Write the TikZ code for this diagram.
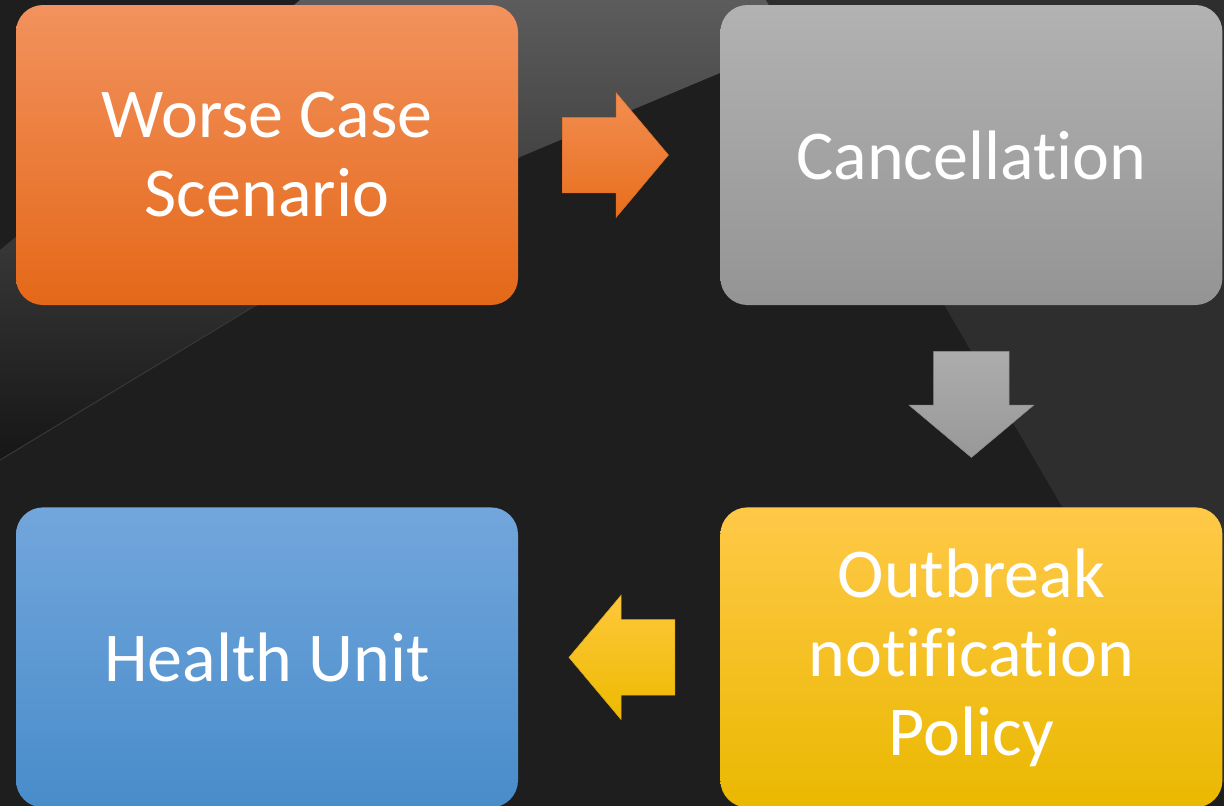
\documentclass[tikz,border=0pt]{standalone}
\usepackage{fontspec}
\setmainfont{Carlito}[Ligatures=NoCommon]
\usepackage{tikz}
\usetikzlibrary{positioning,shapes.arrows}
\usepackage{xcolor}
\definecolor{bgdark}{HTML}{1E1E1E}
\definecolor{bgmid}{HTML}{2E2E2E}
\tikzstyle{flowbox} = [rectangle, rounded corners=27pt, minimum width=502pt, minimum height=300pt, inner sep=0pt, text=white, align=center, font=\fontsize{70}{79}\selectfont]
\tikzstyle{orangebox} = [flowbox, top color={rgb,255:red,242;green,146;blue,94}, middle color={rgb,255:red,245;green,124;blue,42}, bottom color={rgb,255:red,228;green,104;blue,24}]
\tikzstyle{graybox} = [flowbox, top color={rgb,255:red,178;green,178;blue,178}, middle color={rgb,255:red,164;green,164;blue,164}, bottom color={rgb,255:red,148;green,148;blue,148}]
\tikzstyle{bluebox} = [flowbox, top color={rgb,255:red,114;green,166;blue,220}, middle color={rgb,255:red,94;green,156;blue,214}, bottom color={rgb,255:red,72;green,140;blue,202}]
\tikzstyle{yellowbox} = [flowbox, top color={rgb,255:red,255;green,201;blue,72}, middle color={rgb,255:red,255;green,198;blue,0}, bottom color={rgb,255:red,234;green,184;blue,0}]
\tikzstyle{flowarrow} = [single arrow, anchor=tail, minimum height=106pt, inner xsep=0pt, inner ysep=37.5pt, single arrow head extend=24.5pt, single arrow tip angle=100]
\tikzstyle{downarrow} = [flowarrow, shape border rotate=270, inner xsep=37.5pt, inner ysep=0pt]

\begin{document}
\begin{tikzpicture}[x=1pt, y=-1pt]
\useasboundingbox (0,0) rectangle (1224,806);
% background
\fill[bgdark] (0,0) rectangle (1224,806);
\shade[top color={rgb,255:red,92;green,92;blue,92}, bottom color={rgb,255:red,22;green,22;blue,22}]
  (300,0) -- (895,0) -- (720,73) -- (520,157) -- (253,307) -- (0,460) -- (0,250) -- cycle;
\fill[bgmid] (766,0) -- (1224,0) -- (1224,806) -- (1237,806) -- cycle;
\draw[color={rgb,255:red,56;green,56;blue,56}, line width=1pt] (0,460) -- (253,307) -- (520,157);

% boxes
\node[orangebox] (worse) at (267,155) {Worse Case\\Scenario};
\node[graybox, right=202pt of worse] (cancel) {Cancellation};
\node[yellowbox, below=202pt of cancel] (outbreak) {Outbreak\\notification\\Policy};
\node[bluebox, left=202pt of outbreak] (health) {Health Unit};

% arrows
\node[flowarrow, draw={rgb,255:red,222;green,110;blue,40}, line width=0.5pt,
  top color={rgb,255:red,242;green,142;blue,82}, bottom color={rgb,255:red,232;green,110;blue,28}]
  (arrowA) at ([xshift=44pt]worse.east) {};
\node[downarrow, draw={rgb,255:red,140;green,140;blue,140}, line width=0.5pt,
  top color={rgb,255:red,172;green,172;blue,172}, bottom color={rgb,255:red,152;green,152;blue,152}]
  (arrowB) at ([yshift=-46pt]cancel.south) {};
\node[flowarrow, shape border rotate=180, draw={rgb,255:red,220;green,170;blue,20}, line width=0.5pt,
  top color={rgb,255:red,255;green,200;blue,60}, bottom color={rgb,255:red,236;green,186;blue,0}]
  (arrowC) at ([xshift=-45pt]outbreak.west) {};
\end{tikzpicture}
\end{document}
